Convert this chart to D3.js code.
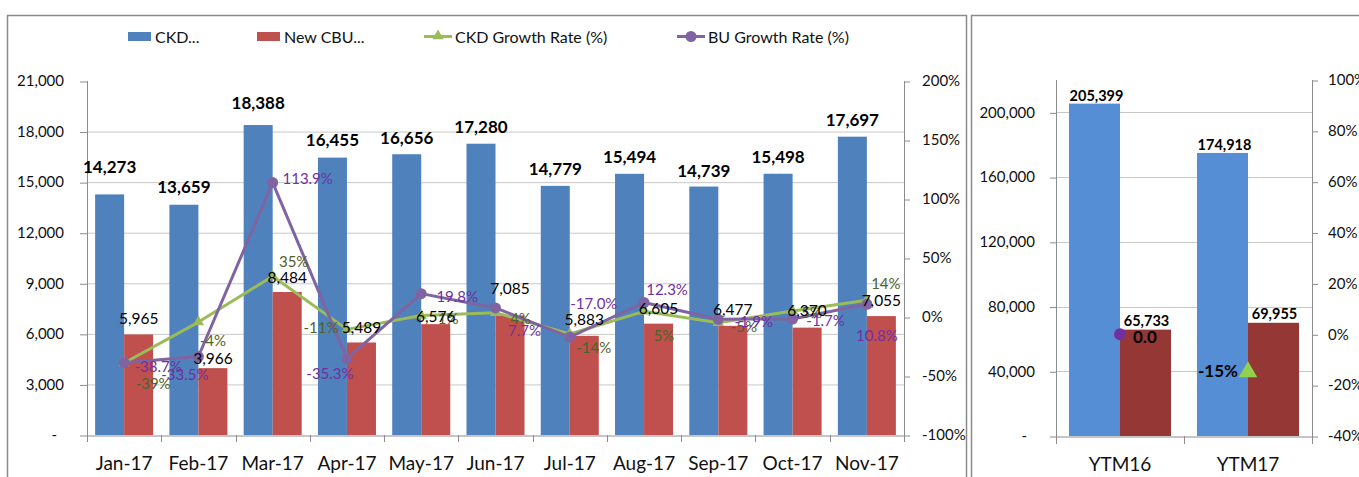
<!DOCTYPE html>
<html><head><meta charset="utf-8">
<script src="https://cdn.jsdelivr.net/npm/d3@7"></script>
<style>
html,body{margin:0;padding:0;background:#fff;}
svg{display:block;font-family:Lato, "Open Sans", sans-serif;}
</style></head>
<body>
<svg id="chart" width="1359" height="477"></svg>
<script>
// ---------- data ----------
const months = ["Jan-17","Feb-17","Mar-17","Apr-17","May-17","Jun-17","Jul-17","Aug-17","Sep-17","Oct-17","Nov-17"];
const ckd = [14273,13659,18388,16455,16656,17280,14779,15494,14739,15498,17697];
const cbu = [5965,3966,8484,5489,6576,7085,5883,6605,6477,6370,7055];
const ckdGrowth = [-39,-4.3,34.6,-10.5,1.2,3.7,-14.4,4.8,-4.9,5.1,14.2];
const buGrowth = [-38.7,-33.5,113.9,-35.3,19.8,7.7,-17.0,12.3,-1.9,-1.7,10.8];
const leftTicks = [0,3000,6000,9000,12000,15000,18000,21000];
const rightTicks = [-100,-50,0,50,100,150,200];
const seriesNames = ["CKD...","New CBU...","CKD Growth Rate (%)","BU Growth Rate (%)"];

const ytmCats = ["YTM16","YTM17"];
const ytmCkd = [205399,174918];
const ytmCbu = [65733,69955];
const ytmBuGrowth = [0,null];
const ytmCkdGrowth = [null,-14.8];
const ytmLeftTicks = [0,40000,80000,120000,160000,200000];
const ytmRightTicks = [-40,-20,0,20,40,60,80,100];

// ---------- label layout (offsets only) ----------
const ckdLift = [28,18,23,18.5,17,17,17,17,16.5,17,17];
const cbuLift = [16.5,10,15,15.5,8,27.5,17,15.5,17,17.5,16];
const gOff = [[29,20],[14.5,18],[21,-15],[-26,-2],[27,2],[25,5],[24,13],[20,24],[25.5,3.5],[19,1],[19,-17]];
const pOff = [[34,3],[-13.5,17],[35,-5],[-17,14],[36,2],[29,22],[24,-34],[23,-13],[35.5,2],[33,1],[10,31]];

const C = {blue:"#4F81BD", red:"#C0504D", green:"#9BBB59", purple:"#8064A2",
  gLab:"#4F6228", pLab:"#7030A0", blue2:"#558ED5", red2:"#953735", grid:"#C8C8C8", axis:"#8C8C8C", text:"#111"};

const pct0 = v => v.toFixed(0) + "%";

const svg = d3.select("#chart");

// frames
svg.append("rect").attr("x",7.5).attr("y",15.5).attr("width",959).attr("height",480)
  .attr("fill","none").attr("stroke","#8a8a8a").attr("stroke-width",1.5);
svg.append("rect").attr("x",971.5).attr("y",15.5).attr("width",420).attr("height",480)
  .attr("fill","none").attr("stroke","#8a8a8a").attr("stroke-width",1.5);

// ---------- left chart ----------
const L = {l:87, r:904, t:81, b:435};
const x = d3.scaleBand().domain(months).range([L.l,L.r]).padding(0);
const xs = d3.scaleBand().domain(["ckd","cbu"]).range([0,x.bandwidth()]).paddingInner(0).paddingOuter(0.28);
const y = d3.scaleLinear().domain([0,21000]).range([L.b,L.t]);
const y2 = d3.scaleLinear().domain([-100,200]).range([L.b,L.t]);
const cx = m => x(m)+x.bandwidth()/2;

const g = svg.append("g");
g.selectAll("line.grid").data(leftTicks.filter(t=>t>0 && t<21000)).join("line")
  .attr("x1",L.l).attr("x2",L.r).attr("y1",d=>y(d)+0.5).attr("y2",d=>y(d)+0.5)
  .attr("stroke",C.grid).attr("stroke-width",1);

g.selectAll("rect.ckd").data(months).join("rect")
  .attr("x",(m)=>x(m)+xs("ckd")).attr("width",xs.bandwidth())
  .attr("y",(m,i)=>y(ckd[i])).attr("height",(m,i)=>y(0)-y(ckd[i])).attr("fill",C.blue);
g.selectAll("rect.cbu").data(months).join("rect")
  .attr("x",(m)=>x(m)+xs("cbu")).attr("width",xs.bandwidth())
  .attr("y",(m,i)=>y(cbu[i])).attr("height",(m,i)=>y(0)-y(cbu[i])).attr("fill",C.red);

const axL = g.append("g").attr("transform",`translate(${L.l},0)`)
  .call(d3.axisLeft(y).tickValues(leftTicks).tickSize(7).tickPadding(16)
    .tickFormat(v=> v===0 ? "-" : d3.format(",")(v)));
axL.select(".domain").remove();
axL.selectAll(".tick line").attr("stroke",C.axis).attr("transform","translate(0,0.5)");
axL.selectAll("text").attr("font-size",15).attr("fill",C.text).attr("font-family","Lato");
axL.selectAll(".tick").filter(d=>d===0).select("text").attr("dx",-7);
g.append("line").attr("x1",L.l+0.5).attr("x2",L.l+0.5).attr("y1",L.t).attr("y2",L.b+7).attr("stroke",C.axis);

const axR = g.append("g").attr("transform",`translate(${L.r},0)`)
  .call(d3.axisRight(y2).tickValues(rightTicks).tickSize(6).tickPadding(12).tickFormat(v=>v+"%"));
axR.select(".domain").remove();
axR.selectAll(".tick line").attr("stroke",C.axis).attr("transform","translate(0,0.5)");
axR.selectAll("text").attr("font-size",15).attr("fill",C.text).attr("font-family","Lato");
g.append("line").attr("x1",L.r+0.5).attr("x2",L.r+0.5).attr("y1",L.t).attr("y2",L.b+7).attr("stroke",C.axis);

const axB = g.append("g").attr("transform",`translate(0,${L.b})`)
  .call(d3.axisBottom(x).tickSize(0).tickPadding(22));
axB.select(".domain").attr("stroke",C.axis).attr("transform","translate(0,0.5)");
axB.selectAll("text").attr("font-size",19).attr("fill",C.text).attr("font-family","Lato");
g.selectAll("line.xt").data(months.concat(["__end"])).join("line")
  .attr("x1",(m,i)=>Math.round(L.l+i*x.step())+0.5).attr("x2",(m,i)=>Math.round(L.l+i*x.step())+0.5)
  .attr("y1",L.b).attr("y2",L.b+7).attr("stroke",C.axis);

const lineGen = d3.line().x((d,i)=>cx(months[i])).y(d=>y2(d));
g.append("path").datum(ckdGrowth).attr("d",lineGen).attr("fill","none")
  .attr("stroke",C.green).attr("stroke-width",3).attr("stroke-linejoin","round");
g.append("path").datum(buGrowth).attr("d",lineGen).attr("fill","none")
  .attr("stroke",C.purple).attr("stroke-width",3).attr("stroke-linejoin","round");
const tri = d3.symbol().type(d3.symbolTriangle).size(55);
g.selectAll("path.gm").data(ckdGrowth).join("path")
  .attr("transform",(d,i)=>`translate(${cx(months[i])},${y2(d)})`).attr("d",tri).attr("fill",C.green);
g.selectAll("circle.pm").data(buGrowth).join("circle")
  .attr("cx",(d,i)=>cx(months[i])).attr("cy",d=>y2(d)).attr("r",5.5).attr("fill",C.purple);

g.selectAll("text.ckdl").data(ckd).join("text")
  .attr("x",(d,i)=>x(months[i])+xs("ckd")+xs.bandwidth()/2).attr("y",(d,i)=>y(d)-ckdLift[i])
  .attr("text-anchor","middle").attr("dominant-baseline","central")
  .attr("font-size",17).attr("font-weight","bold").attr("fill","#000").text(d=>d3.format(",")(d));
g.selectAll("text.gl").data(ckdGrowth).join("text")
  .attr("x",(d,i)=>cx(months[i])+gOff[i][0]).attr("y",(d,i)=>y2(d)+gOff[i][1])
  .attr("text-anchor","middle").attr("dominant-baseline","central")
  .attr("font-size",15).attr("fill",C.gLab).text(pct0);
g.selectAll("text.cbul").data(cbu).join("text")
  .attr("x",(d,i)=>x(months[i])+xs("cbu")+xs.bandwidth()/2).attr("y",(d,i)=>y(d)-cbuLift[i])
  .attr("text-anchor","middle").attr("dominant-baseline","central")
  .attr("font-size",15.5).attr("fill","#000").text(d=>d3.format(",")(d));
g.selectAll("text.pl").data(buGrowth).join("text")
  .attr("x",(d,i)=>cx(months[i])+pOff[i][0]).attr("y",(d,i)=>y2(d)+pOff[i][1])
  .attr("text-anchor","middle").attr("dominant-baseline","central")
  .attr("font-size",15).attr("fill",C.pLab).text(d=>d.toFixed(1)+"%");

// legend
const lg = svg.append("g").attr("font-size",16).attr("fill",C.text);
const legendX = [128,257,424,677];
seriesNames.forEach((n,i)=>{
  const lx = legendX[i];
  if(i<2){
    lg.append("rect").attr("x",lx).attr("y",32).attr("width",23).attr("height",9).attr("fill",i===0?C.blue:C.red);
    lg.append("text").attr("x",lx+27).attr("y",36.5).attr("dominant-baseline","central").text(n);
  } else {
    const col = i===2?C.green:C.purple;
    lg.append("line").attr("x1",lx).attr("x2",lx+28).attr("y1",36.5).attr("y2",36.5).attr("stroke",col).attr("stroke-width",3);
    if(i===2) lg.append("path").attr("transform",`translate(${lx+14},36)`).attr("d",tri).attr("fill",col);
    else lg.append("circle").attr("cx",lx+14).attr("cy",36.5).attr("r",5.5).attr("fill",col);
    lg.append("text").attr("x",lx+31).attr("y",36.5).attr("dominant-baseline","central").text(n);
  }
});

// ---------- right chart ----------
const R = {l:1056, r:1312, t:80, b:436};
const xr = d3.scaleBand().domain(ytmCats).range([R.l,R.r]).padding(0);
const xrs = d3.scaleBand().domain(["ckd","cbu"]).range([0,xr.bandwidth()]).paddingInner(0).paddingOuter(0.255);
const yr = d3.scaleLinear().domain([0,220000]).range([R.b,R.t]);
const yr2 = d3.scaleLinear().domain([-40,100]).range([R.b,R.t]);
const cxr = c => xr(c)+xr.bandwidth()/2;
const h = svg.append("g");
h.selectAll("line.grid").data(ytmLeftTicks.filter(t=>t>0)).join("line")
  .attr("x1",R.l).attr("x2",R.r).attr("y1",d=>Math.round(yr(d))+0.5).attr("y2",d=>Math.round(yr(d))+0.5)
  .attr("stroke",C.grid);
h.selectAll("rect.ckd").data(ytmCats).join("rect")
  .attr("x",c=>xr(c)+xrs("ckd")).attr("width",xrs.bandwidth())
  .attr("y",(c,i)=>yr(ytmCkd[i])).attr("height",(c,i)=>yr(0)-yr(ytmCkd[i])).attr("fill",C.blue2);
h.selectAll("rect.cbu").data(ytmCats).join("rect")
  .attr("x",c=>xr(c)+xrs("cbu")).attr("width",xrs.bandwidth())
  .attr("y",(c,i)=>yr(ytmCbu[i])).attr("height",(c,i)=>yr(0)-yr(ytmCbu[i])).attr("fill",C.red2);

const raL = h.append("g").attr("transform",`translate(${R.l},0)`)
  .call(d3.axisLeft(yr).tickValues(ytmLeftTicks).tickSize(6).tickPadding(15)
    .tickFormat(v=> v===0 ? "-" : d3.format(",")(v)));
raL.select(".domain").remove();
raL.selectAll(".tick line").attr("stroke",C.axis).attr("transform","translate(0,0.5)");
raL.selectAll("text").attr("font-size",15).attr("fill",C.text).attr("font-family","Lato");
raL.selectAll(".tick").filter(d=>d===0).select("text").attr("dx",-8);
h.append("line").attr("x1",R.l+0.5).attr("x2",R.l+0.5).attr("y1",R.t).attr("y2",R.b+8).attr("stroke",C.axis);

const raR = h.append("g").attr("transform",`translate(${R.r},0)`)
  .call(d3.axisRight(yr2).tickValues(ytmRightTicks).tickSize(6).tickPadding(10).tickFormat(v=>v+"%"));
raR.select(".domain").remove();
raR.selectAll(".tick line").attr("stroke",C.axis).attr("transform","translate(0,0.5)");
raR.selectAll("text").attr("font-size",15).attr("fill",C.text).attr("font-family","Lato");
h.append("line").attr("x1",R.r+0.5).attr("x2",R.r+0.5).attr("y1",R.t).attr("y2",R.b+8).attr("stroke",C.axis);

const raB = h.append("g").attr("transform",`translate(0,${R.b})`)
  .call(d3.axisBottom(xr).tickSize(0).tickPadding(22));
raB.select(".domain").attr("stroke",C.axis).attr("transform","translate(0,0.5)");
raB.selectAll("text").attr("font-size",19).attr("fill",C.text).attr("font-family","Lato");
h.append("line").attr("x1",R.l+xr.step()+0.5).attr("x2",R.l+xr.step()+0.5).attr("y1",R.b).attr("y2",R.b+8).attr("stroke",C.axis);

ytmBuGrowth.forEach((v,i)=>{ if(v===null) return;
  h.append("circle").attr("cx",cxr(ytmCats[i])).attr("cy",yr2(v)).attr("r",6).attr("fill","#7030A0");
  h.append("text").attr("x",cxr(ytmCats[i])+13).attr("y",yr2(v)+2).attr("dominant-baseline","central")
    .attr("font-size",17).attr("font-weight","bold").attr("fill","#000").text(v.toFixed(1));
});
ytmCkdGrowth.forEach((v,i)=>{ if(v===null) return;
  h.append("path").attr("transform",`translate(${cxr(ytmCats[i])},${yr2(v)})`)
    .attr("d",d3.symbol().type(d3.symbolTriangle).size(150)).attr("fill","#92D050");
  h.append("text").attr("x",cxr(ytmCats[i])-10).attr("y",yr2(v)-1).attr("dominant-baseline","central")
    .attr("text-anchor","end").attr("font-size",17).attr("font-weight","bold").attr("fill","#000")
    .text(pct0(v));
});
h.selectAll("text.yc").data(ytmCkd).join("text")
  .attr("x",(d,i)=>xr(ytmCats[i])+xrs("ckd")+xrs.bandwidth()/2+2).attr("y",(d,i)=>yr(d)-8)
  .attr("text-anchor","middle").attr("dominant-baseline","central")
  .attr("font-size",14.5).attr("font-weight","bold").attr("fill","#000").text(d=>d3.format(",")(d));
h.selectAll("text.yb").data(ytmCbu).join("text")
  .attr("x",(d,i)=>xr(ytmCats[i])+xrs("cbu")+xrs.bandwidth()/2+1).attr("y",(d,i)=>yr(d)-9)
  .attr("text-anchor","middle").attr("dominant-baseline","central")
  .attr("font-size",14.5).attr("font-weight","bold").attr("fill","#000").text(d=>d3.format(",")(d));
</script>
</body></html>
